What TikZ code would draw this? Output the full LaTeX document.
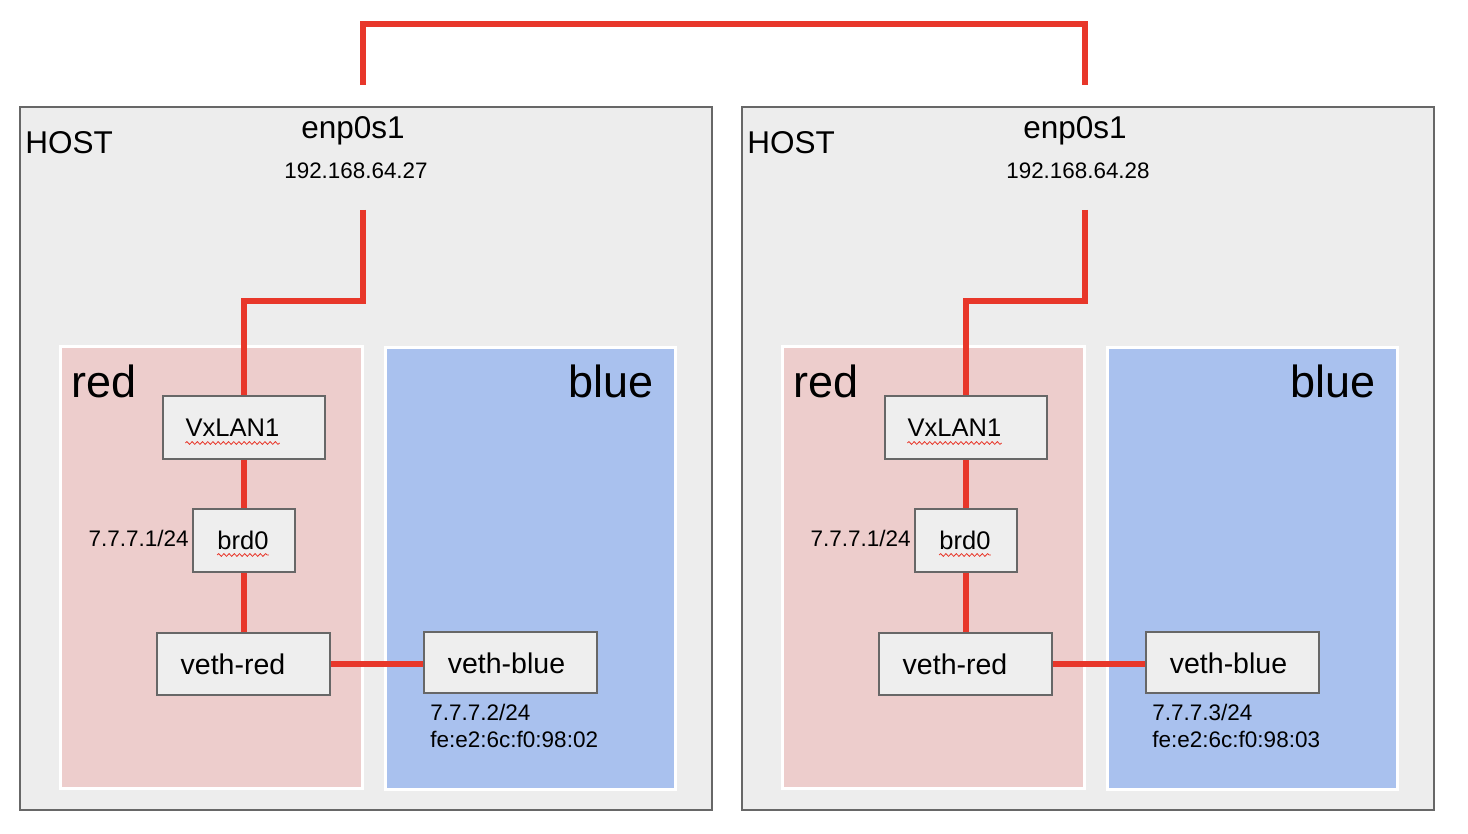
\documentclass[tikz,border=0pt]{standalone}
\usepackage{fontspec}
\setmainfont{Liberation Sans}
\usetikzlibrary{calc}
\usetikzlibrary{backgrounds}
\usetikzlibrary{decorations.pathmorphing}

\definecolor{hostfill}{HTML}{EDEDED}
\definecolor{hostedge}{HTML}{676767}
\definecolor{redns}{HTML}{EDCDCC}
\definecolor{bluens}{HTML}{A9C1EE}
\definecolor{boxfill}{HTML}{EEEEEE}
\definecolor{linkred}{HTML}{E8372A}

\tikzset{
 hostbox/.style={draw=hostedge, fill=hostfill, line width=1pt},
 nsbox/.style={draw=white, line width=1.5pt},
 ifbox/.style={draw=hostedge, fill=boxfill, line width=1pt, inner sep=0},
 iftext/.style={anchor=base, inner sep=0},
 link/.style={linkred, line width=3pt},
 typo/.style={linkred, line width=0.4pt, decorate, decoration={snake, amplitude=0.7pt, segment length=2.6pt}},
}

\begin{document}
\begin{tikzpicture}[x=0.5pt, y=-0.5pt]
\useasboundingbox (0,0) rectangle (1468,834);
\foreach \hs/\dx/\hostip/\vb in {L/0/27/2, R/722/28/3} {
\begin{scope}[shift={(\dx,0)}]
 \begin{scope}[on background layer]
  \draw[hostbox] (20,107) rectangle (712,810);
  \draw[nsbox, fill=redns] (60,347) rectangle (362,788);
  \draw[nsbox, fill=bluens] (385,348) rectangle (675,789);
 \end{scope}
 \node[iftext, anchor=base west, font=\fontsize{15.75}{18}\selectfont] (host\hs) at (25,154) {HOST};
 \node[iftext, font=\fontsize{15.75}{18}\selectfont] (enp\hs) at (353,139) {enp0s1};
 \node[iftext, font=\fontsize{11.2}{13}\selectfont] (ip\hs) at (356,179) {192.168.64.\hostip};
 \node[iftext, anchor=base west, font=\fontsize{22.5}{26}\selectfont] (red\hs) at (71,398) {red};
 \node[iftext, anchor=base east, font=\fontsize{22.5}{26}\selectfont] (blue\hs) at (654,398) {blue};
 % interfaces
 \node[ifbox, minimum width=81pt, minimum height=31.5pt] (vx\hs) at (244,427.5) {};
 \node[iftext, font=\fontsize{12.75}{15}\selectfont] (vxt\hs) at (232.5,437) {VxLAN1};
 \node[ifbox, minimum width=51pt, minimum height=31.5pt] (br\hs) at (244,540.5) {};
 \node[iftext, font=\fontsize{12.75}{15}\selectfont] (brt\hs) at (243,549) {brd0};
 \node[iftext, anchor=base east, font=\fontsize{11.25}{13}\selectfont] (bra\hs) at (189,546) {7.7.7.1/24};
 \node[ifbox, minimum width=86.5pt, minimum height=31pt] (vr\hs) at (243.5,664) {};
 \node[iftext, font=\fontsize{14.25}{17}\selectfont] (vrt\hs) at (233,674) {veth-red};
 \node[ifbox, minimum width=86.5pt, minimum height=30.5pt] (vb\hs) at (510.5,662.5) {};
 \node[iftext, font=\fontsize{14.25}{17}\selectfont] (vbt\hs) at (506.5,673) {veth-blue};
 \node[iftext, anchor=base west, font=\fontsize{11.25}{13}\selectfont] (vba\hs) at (430,720) {7.7.7.\vb/24};
 \node[iftext, anchor=base west, font=\fontsize{11.25}{13}\selectfont] (mac\hs) at (430,747) {fe:e2:6c:f0:98:0\vb};
 \coordinate (up\hs) at (363,85);
 \coordinate (eth\hs) at (363,210);
 \begin{scope}[on background layer]
  \draw[link] (eth\hs) -- ++(0,91) -| (vx\hs.north);
  \draw[link] (vx\hs.south) -- (br\hs.north);
  \draw[link] (br\hs.south) -- (br\hs.south |- vr\hs.north);
  \draw[link] (vr\hs.east) -- (vr\hs.east -| vb\hs.west);
 \end{scope}
 \draw[typo] ([yshift=-3pt]vxt\hs.base west) -- ([yshift=-3pt]vxt\hs.base east);
 \draw[typo] ([yshift=-3pt]brt\hs.base west) -- ([yshift=-3pt]brt\hs.base east);
\end{scope}
}
\draw[link] (upL) -- ++(0,-61) -| (upR);
\end{tikzpicture}
\end{document}
